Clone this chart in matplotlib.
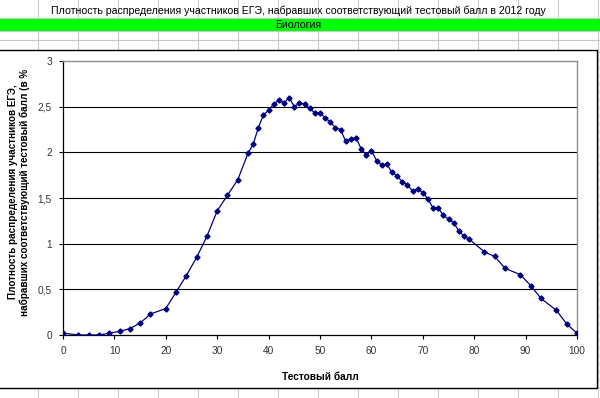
import matplotlib
matplotlib.use("Agg")
import matplotlib.pyplot as plt
from matplotlib.patches import Rectangle
from matplotlib.lines import Line2D

# ---- data ----
scores = [0, 3, 5, 7, 9, 11, 13, 15, 17, 20, 22, 24, 26, 28, 30, 32, 34, 36, 37, 38,
          39, 40, 41, 42, 43, 44, 45, 46, 47, 48, 49, 50, 51, 52, 53, 54, 55, 56, 57,
          58, 59, 60, 61, 62, 63, 64, 65, 66, 67, 68, 69, 70, 71, 72, 73, 74, 75, 76,
          77, 78, 79, 82, 84, 86, 89, 91, 93, 96, 98, 100]
density = [0.02, 0.0, 0.0, 0.0, 0.02, 0.04, 0.07, 0.13, 0.23, 0.29, 0.47, 0.65, 0.85,
           1.08, 1.36, 1.53, 1.70, 1.99, 2.09, 2.27, 2.41, 2.46, 2.53, 2.57, 2.54, 2.60,
           2.50, 2.54, 2.53, 2.48, 2.43, 2.43, 2.38, 2.33, 2.27, 2.25, 2.12, 2.15, 2.16,
           2.04, 1.97, 2.02, 1.91, 1.86, 1.87, 1.78, 1.74, 1.68, 1.64, 1.58, 1.60, 1.56,
           1.49, 1.39, 1.39, 1.31, 1.27, 1.23, 1.14, 1.08, 1.05, 0.91, 0.86, 0.73, 0.66,
           0.54, 0.40, 0.27, 0.12, 0.02]
x_ticks = [0, 10, 20, 30, 40, 50, 60, 70, 80, 90, 100]
y_ticks = [0, 0.5, 1, 1.5, 2, 2.5, 3]
y_tick_labels = ["0", "0,5", "1", "1,5", "2", "2,5", "3"]

title = "Плотность распределения участников ЕГЭ, набравших соответствующий тестовый балл в 2012 году"
subject = "Биология"
x_label = "Тестовый балл"
y_label = "Плотность распределения участников ЕГЭ,\nнабравших соответствующий тестовый балл (в %"

plt.rcParams['font.family'] = ['Liberation Sans', 'DejaVu Sans']

W, H = 600, 398
fig = plt.figure(figsize=(W / 100, H / 100), dpi=100)
fig.patch.set_facecolor('white')

def fx(x):
    return x / W

def fy(y):
    return 1 - y / H

grid_col = '#c8c8c8'
# spreadsheet column lines
for cx in range(38, 600, 40):
    fig.add_artist(Line2D([fx(cx), fx(cx)], [0, 1], color=grid_col, lw=0.8, zorder=0))
# spreadsheet row lines
for ry in [18, 31, 40, 388]:
    fig.add_artist(Line2D([0, 1], [fy(ry), fy(ry)], color=grid_col, lw=0.8, zorder=0))
for ry in range(52, 388, 8):
    fig.add_artist(Line2D([fx(597), 1], [fy(ry), fy(ry)], color=grid_col, lw=0.8, zorder=0))

# title row
fig.text(fx(298), fy(11), title, ha='center', va='center', fontsize=7.6, color='black', zorder=3)
# green band
fig.add_artist(Rectangle((0, fy(31)), 1, (31 - 19) / H, transform=fig.transFigure,
                         facecolor='#00ff00', edgecolor='none', zorder=1))
fig.text(fx(298), fy(25), subject, ha='center', va='center', fontsize=7.6, color='black', zorder=3)

# chart area
fig.add_artist(Rectangle((fx(-2), fy(388)), fx(599), (388 - 50) / H, transform=fig.transFigure,
                         facecolor='white', edgecolor='black', lw=1.0, zorder=1))

ax = fig.add_axes([fx(63), fy(335), fx(577 - 63), (335 - 61) / H], zorder=2)
ax.set_facecolor('white')
ax.plot(scores, density, color='#000080', lw=0.9, marker='D', markersize=2.6,
        markerfacecolor='#000080', markeredgecolor='#000080', zorder=3)

ax.set_xlim(0, 100)
ax.set_ylim(0, 3)
ax.set_xticks(x_ticks)
ax.set_yticks(y_ticks)
ax.set_yticklabels(y_tick_labels)
for yv in y_ticks[1:-1]:
    ax.axhline(yv, color='black', lw=0.8, zorder=1)
ax.tick_params(axis='both', labelsize=7.3, labelcolor='#333333', length=3, width=0.8,
               direction='out', pad=5)
for s in ['top', 'right']:
    ax.spines[s].set_color('#909090')
    ax.spines[s].set_linewidth(1.0)
for s in ['left', 'bottom']:
    ax.spines[s].set_color('black')
    ax.spines[s].set_linewidth(0.9)

fig.text(fx(320), fy(377), x_label, ha='center', va='center', fontsize=7.3,
         fontweight='bold', zorder=3)
fig.text(fx(19), fy(192), y_label, ha='center', va='center', fontsize=7.1,
         fontweight='bold', rotation=90, linespacing=1.25, zorder=3)

fig.savefig('out.png', dpi=100)
